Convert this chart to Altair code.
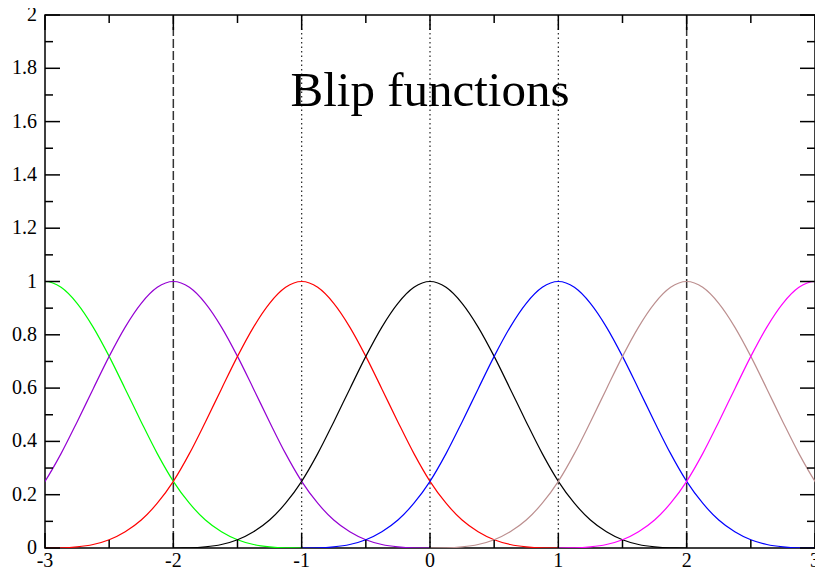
import altair as alt
import pandas as pd

# ---- data ----
centers = [-3, -2, -1, 0, 1, 2, 3]
colors = ["#00ff00", "#9400d3", "#ff0000", "#000000", "#0000ff", "#bc8f8f", "#ff00ff"]
# shape of one blip: offset from its centre -> value
offsets = [-2.0, -1.875, -1.75, -1.625, -1.5, -1.375, -1.25, -1.125, -1.0, -0.875, -0.75,
           -0.625, -0.5, -0.375, -0.25, -0.125, 0.0, 0.125, 0.25, 0.375, 0.5, 0.625,
           0.75, 0.875, 1.0, 1.125, 1.25, 1.375, 1.5, 1.625, 1.75, 1.875, 2.0]
values = [0.0, 0.0005, 0.004, 0.013, 0.031, 0.061, 0.105, 0.168, 0.25, 0.354, 0.473,
          0.597, 0.719, 0.829, 0.918, 0.978, 1.0, 0.978, 0.918, 0.829, 0.719, 0.597,
          0.473, 0.354, 0.25, 0.168, 0.105, 0.061, 0.031, 0.013, 0.004, 0.0005, 0.0]
dashed_x = [-2, 2]
dotted_x = [-1, 0, 1]
x_major = [-3, -2, -1, 0, 1, 2, 3]
x_labels = ["-3", "-2", "-1", "0", "1", "2", "3"]
x_minor = [-2.5, -1.5, -0.5, 0.5, 1.5, 2.5]
y_major = [0, 0.2, 0.4, 0.6, 0.8, 1, 1.2, 1.4, 1.6, 1.8, 2]
y_labels = ["0", "0.2", "0.4", "0.6", "0.8", "1", "1.2", "1.4", "1.6", "1.8", "2"]
y_minor = [0.1, 0.3, 0.5, 0.7, 0.9, 1.1, 1.3, 1.5, 1.7, 1.9]
title_text = ["Blip functions"]
title_x = [0]
title_y = [1.66]

W, H = 770, 533
FONT = "Liberation Serif"
LABEL_SIZE = 20

rows = []
for i, (c, col) in enumerate(zip(centers, colors)):
    for o, v in zip(offsets, values):
        rows.append({"series": str(i), "x": c + o, "y": v})
curves_df = pd.DataFrame(rows)

xs = alt.Scale(domain=[-3, 3], nice=False, zero=False)
ys = alt.Scale(domain=[0, 2], nice=False, zero=False)

def X(field="x"):
    return alt.X(f"{field}:Q", scale=xs, axis=None)

def Y(field="y"):
    return alt.Y(f"{field}:Q", scale=ys, axis=None)

curves = alt.Chart(curves_df).mark_line(clip=True, strokeWidth=1.2, interpolate="monotone").encode(
    x=X(), y=Y(),
    color=alt.Color("series:N", scale=alt.Scale(domain=[str(i) for i in range(len(centers))], range=colors), legend=None),
    detail="series:N",
)

dashed = alt.Chart(pd.DataFrame({"x": dashed_x})).mark_rule(
    color="#333333", strokeWidth=1.5, strokeDash=[9, 3]).encode(
    x=X(), y=alt.value(0), y2=alt.value(H))
dotted = alt.Chart(pd.DataFrame({"x": dotted_x})).mark_rule(
    color="#222222", strokeWidth=1.2, strokeDash=[1.5, 3]).encode(
    x=X(), y=alt.value(0), y2=alt.value(H))

def xticks(vals, length):
    d = pd.DataFrame({"x": vals})
    b = alt.Chart(d).mark_rule(color="black", strokeWidth=1.5).encode(
        x=X(), y=alt.value(H), y2=alt.value(H - length))
    t = alt.Chart(d).mark_rule(color="black", strokeWidth=1.5).encode(
        x=X(), y=alt.value(0), y2=alt.value(length))
    return [b, t]

def yticks(vals, length):
    d = pd.DataFrame({"y": vals})
    l = alt.Chart(d).mark_rule(color="black", strokeWidth=1.5).encode(
        y=Y(), x=alt.value(0), x2=alt.value(length))
    r = alt.Chart(d).mark_rule(color="black", strokeWidth=1.5).encode(
        y=Y(), x=alt.value(W), x2=alt.value(W - length))
    return [l, r]

ticks = xticks(x_major, 15) + xticks(x_minor, 8) + yticks(y_major, 15) + yticks(y_minor, 8)

xlab = alt.Chart(pd.DataFrame({"x": x_major, "t": x_labels})).mark_text(
    font=FONT, fontSize=LABEL_SIZE, align="center", baseline="alphabetic", color="black").encode(
    x=X(), y=alt.value(H + 19), text="t:N")
ylab = alt.Chart(pd.DataFrame({"y": y_major, "t": y_labels})).mark_text(
    font=FONT, fontSize=LABEL_SIZE, align="right", baseline="middle", color="black").encode(
    y=Y(), x=alt.value(-8), text="t:N")

title = alt.Chart(pd.DataFrame({"t": title_text, "x": title_x, "y": title_y})).mark_text(
    font=FONT, fontSize=49, align="center", baseline="alphabetic", color="black").encode(
    x=X(), y=Y(), text="t:N")

chart = alt.layer(dashed, dotted, curves, *ticks, xlab, ylab, title).properties(
    width=W, height=H,
    autosize=alt.AutoSizeParams(type="none"),
    padding={"left": 37, "top": 7, "right": 0, "bottom": 23},
    background="white",
).configure_view(stroke="black", strokeWidth=1.5)

chart.save("out.html", embed_options={"renderer": "svg", "actions": False})
